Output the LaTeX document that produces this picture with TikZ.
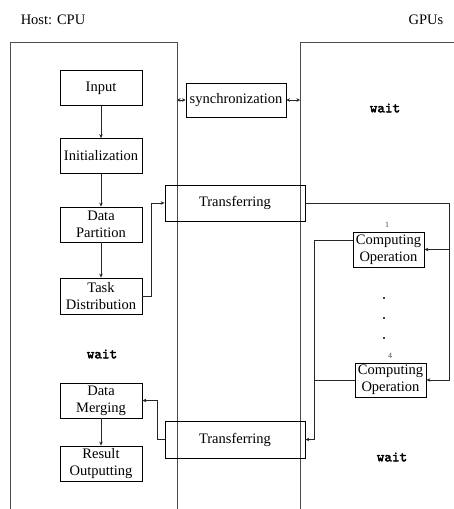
\documentclass[tikz,border=0pt]{standalone}
\usepackage{fontspec}
\setmainfont{Liberation Serif}
\newfontfamily\waitfont[FakeBold=2.5]{lmmono10-regular.otf}
\usetikzlibrary{arrows.meta,calc}
\begin{document}
\begin{tikzpicture}[x=1pt,y=-1pt,
  font=\fontsize{14.5}{17}\selectfont,
  box/.style={draw=black,line width=0.8pt,align=center,inner sep=0pt,minimum width=82pt,minimum height=35pt},
  frame/.style={draw=black!70,line width=0.9pt},
  conn/.style={draw=black!85,line width=0.8pt},
  arr/.style={conn,-{Stealth[length=4pt,width=3.5pt]}},
  darr/.style={conn,{Stealth[length=3.5pt,width=3.5pt]}-{Stealth[length=3.5pt,width=3.5pt]}},
  waittext/.style={font=\fontsize{14.5}{17}\selectfont\waitfont},
  idx/.style={font=\fontsize{8}{9}\selectfont,text=black!70},
  dot/.style={circle,fill=black,inner sep=0pt,minimum size=2.2pt}
]
\useasboundingbox (0,0) rectangle (454,509);
% frames
\draw[frame] (10,509) -- (10,42) -- (177,42) -- (177,509);
\draw[frame] (454,42) -- (300,42) -- (300,509);
\coordinate (cpuR) at (177,100);
\coordinate (gpuL) at (300,100);
% titles
\node (host) at (53,20) {Host: CPU};
\node (gpus) at (426,20) {GPUs};
% CPU boxes
\node[box] (input) at (101,88) {Input};
\node[box] (init) at (101,156) {Initialization};
\node[box] (dp) at (101,224.5) {Data\\Partition};
\node[box,minimum height=36pt] (td) at (101,296) {Task\\Distribution};
\node[waittext] (w1) at (102,354) {wait};
\node[box] (dm) at (101,400.5) {Data\\Merging};
\node[box] (ro) at (101,463.5) {Result\\Outputting};
% middle
\node[box,minimum width=100pt,minimum height=34pt] (sync) at (236,100) {synchronization};
\node[box,minimum width=140pt,minimum height=36pt] (t1) at (235,203) {Transferring};
\node[box,minimum width=140pt,minimum height=37pt] (t2) at (235,439.5) {Transferring};
% GPU side
\node[waittext] (w2) at (385,108) {wait};
\node[box,minimum width=71pt,minimum height=35pt] (co1) at (388.5,249.5) {Computing\\Operation};
\node[idx] (l1) at (387,225) {1};
\node[dot] (d1) at (384,298) {};
\node[dot] (d2) at (384,318) {};
\node[dot] (d3) at (384,338) {};
\node[box,minimum width=71pt,minimum height=34pt] (co4) at (390.5,380) {Computing\\Operation};
\node[idx] (l4) at (390,355.5) {4};
\node[waittext] (w3) at (392,457) {wait};
% connectors
\draw[arr] (input) -- (init);
\draw[arr] (init) -- (dp);
\draw[arr] (dp) -- (td);
\draw[arr] (dm) -- (ro);
\draw[arr] (td.east) -- (151,296) -- (151,203) -- (t1.west);
\draw[darr] (cpuR) -- (sync.west);
\draw[darr] (sync.east) -- (gpuL);
\draw[arr] (t1.east) -- (449,203) -- (449,380) -- (co4.east);
\draw[arr] (449,249.5) -- (co1.east);
\draw[arr] ([yshift=9pt]co1.west) -- (314,240.5) -- (314,439.5) -- (t2.east);
\draw[conn] (co4.west) -- (314,380);
\draw[arr] (t2.west) -- (157,439.5) -- (157,400.5) -- (dm.east);
\end{tikzpicture}
\end{document}
